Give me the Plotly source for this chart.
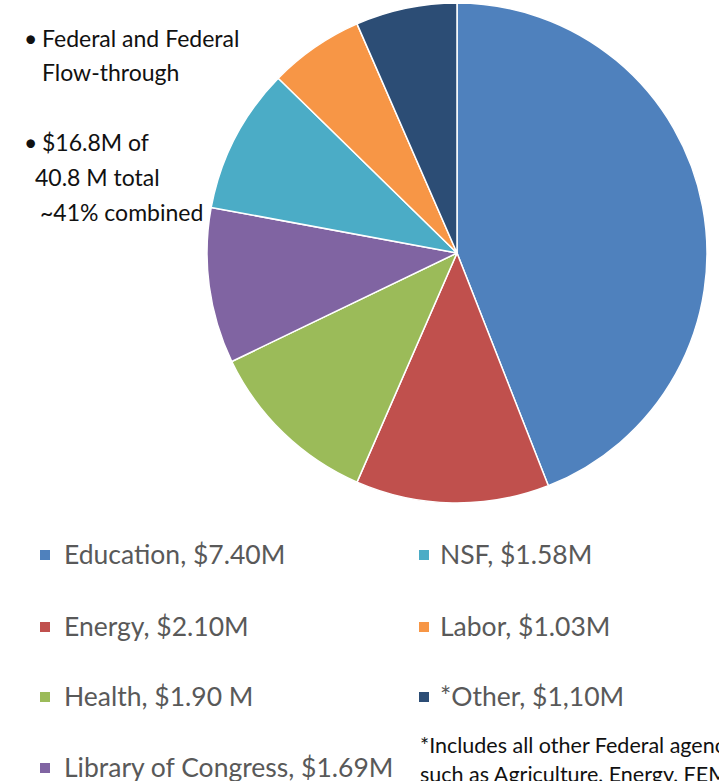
import plotly.graph_objects as go

# Federal and federal flow-through funding by agency ($M)
agencies = ["Education", "Energy", "Health", "Library of Congress", "NSF", "Labor", "*Other"]
amounts = [7.40, 2.10, 1.90, 1.69, 1.58, 1.03, 1.10]
legend_texts = [
    "Education, $7.40M",
    "Energy, $2.10M",
    "Health, $1.90 M",
    "Library of Congress, $1.69M",
    "NSF, $1.58M",
    "Labor, $1.03M",
    "*Other, $1,10M",
]
colors = ["#4F81BD", "#C0504D", "#9BBB59", "#8064A2", "#4BACC6", "#F79646", "#2C4D75"]

W, H = 719, 781
FONT = "Lato"


def px(x):
    return x / W


def py(y):
    return 1 - y / H


fig = go.Figure()
fig.add_trace(go.Pie(
    labels=agencies,
    values=amounts,
    sort=False,
    direction="clockwise",
    rotation=0,
    marker=dict(colors=colors, line=dict(color="white", width=1.5)),
    textinfo="none",
    hoverinfo="label+value",
    showlegend=False,
    domain=dict(x=[px(207), px(707)], y=[py(503), py(3)]),
))

annotations = []
shapes = []

# Two-column legend: first four agencies on the left, the rest on the right
swatch_x = [45, 424]
text_x = [62, 438]
row_y = [555, 627, 697, 768]
sq = 10
for i, (txt, col) in enumerate(zip(legend_texts, colors)):
    c, r = (0, i) if i < 4 else (1, i - 4)
    cx, cy = swatch_x[c], row_y[r]
    shapes.append(dict(
        type="rect", xref="paper", yref="paper",
        x0=px(cx - sq / 2), x1=px(cx + sq / 2),
        y0=py(cy + sq / 2), y1=py(cy - sq / 2),
        fillcolor=col, line=dict(width=0),
    ))
    annotations.append(dict(
        text=txt, xref="paper", yref="paper",
        x=px(text_x[c]), y=py(cy - 1), xanchor="left", yanchor="middle",
        showarrow=False, font=dict(family=FONT, size=26.5, color="#595959"),
    ))

# Side notes with bullets
notes = [
    ("•", 22, 38), ("Federal and Federal", 40, 38),
    ("Flow-through", 40, 72),
    ("•", 22, 142), ("$16.8M of", 40, 142),
    ("40.8 M total", 33, 177),
    ("~41% combined", 38, 212),
]
for txt, x, y in notes:
    annotations.append(dict(
        text=txt, xref="paper", yref="paper",
        x=px(x), y=py(y), xanchor="left", yanchor="middle",
        showarrow=False, font=dict(family=FONT, size=23, color="#111111"),
    ))

# Footnote for the "Other" category (runs off the right edge of the page)
footnote = [
    ("*Includes all other Federal agencies", 418, 745),
    ("such as Agriculture, Energy, FEMA, etc.", 418, 774),
]
for txt, x, y in footnote:
    annotations.append(dict(
        text=txt, xref="paper", yref="paper",
        x=px(x), y=py(y), xanchor="left", yanchor="middle",
        showarrow=False, font=dict(family=FONT, size=21.5, color="#111111"),
    ))

fig.update_layout(
    width=W, height=H,
    margin=dict(l=0, r=0, t=0, b=0),
    paper_bgcolor="white",
    plot_bgcolor="white",
    annotations=annotations,
    shapes=shapes,
    showlegend=False,
)

fig.write_html("out.html")
